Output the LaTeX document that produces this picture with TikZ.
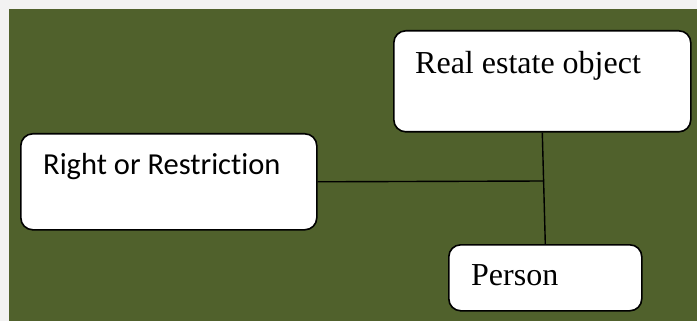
\documentclass[tikz,border=0pt]{standalone}
\usepackage{fontspec}
\setmainfont{Liberation Serif}
\newfontfamily\carlito[Ligatures={NoCommon}]{Carlito}
\definecolor{bggray}{RGB}{242,242,242}
\definecolor{olive}{RGB}{80,97,44}
\begin{document}
\begin{tikzpicture}[x=1pt,y=-1pt,
  box/.style={draw=black,line width=1.6pt,fill=white,rounded corners=12pt,inner sep=0pt,anchor=north west},
  lbl/.style={anchor=base west,inner sep=0pt,font=\fontsize{32}{32}\selectfont},
  conn/.style={draw=black,line width=1.4pt}]
\fill[bggray] (0,0) rectangle (697,321);
\fill[olive] (8.5,9.5) rectangle (697,321);
\useasboundingbox (0,0) rectangle (697,321);
\node[box,minimum width=297pt,minimum height=101pt] (reo) at (393,30) {};
\node[box,minimum width=296pt,minimum height=96pt] (rr) at (20,133) {};
\node[box,minimum width=193pt,minimum height=66pt] (per) at (448,244) {};
\node[lbl] (reot) at (415,73.5) {Real estate object};
\node[lbl,font=\carlito\fontsize{30.5}{30.5}\selectfont] (rrt) at (43,175) {Right or Restriction};
\node[lbl] (pert) at (471,285) {Person};
\draw[conn] (reo.south) -- (per.north);
\coordinate (j) at (543.8,181);
\draw[conn] (rr.east) -- (j);
\end{tikzpicture}
\end{document}
